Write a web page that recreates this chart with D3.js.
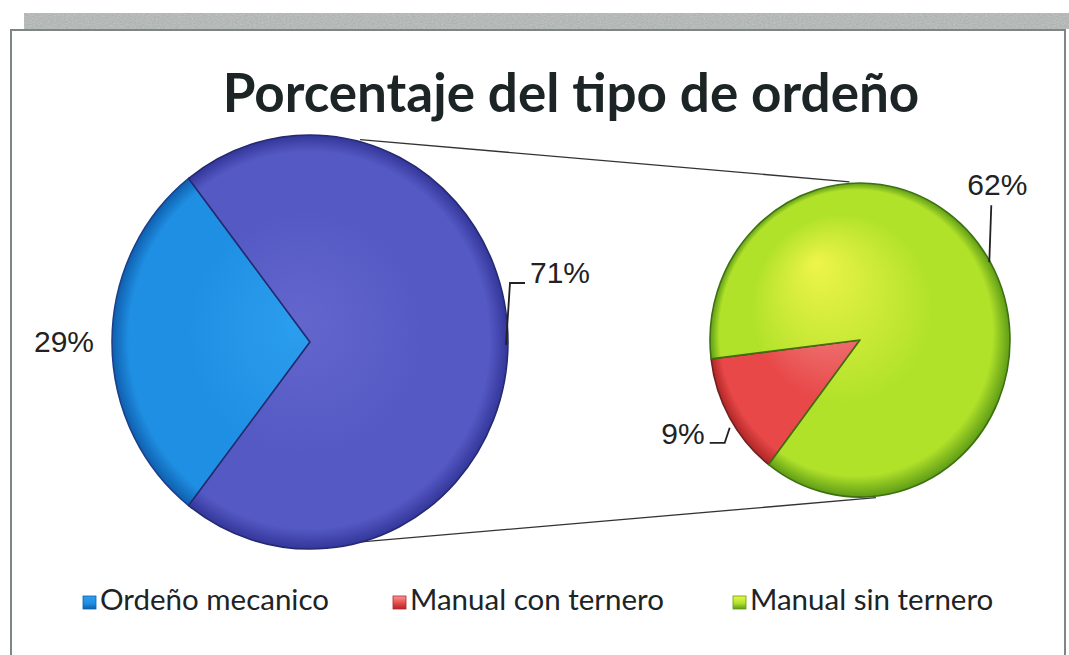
<!DOCTYPE html>
<html>
<head>
<meta charset="utf-8">
<script src="https://cdn.jsdelivr.net/npm/d3@7"></script>
<style>
	body { margin: 0; background: #fff; }
	svg { display: block; }
</style>
</head>
<body>
<script>
// Data (percent of total)
const mainLabels = ['Ordeño mecanico', 'Manual'];
const mainValues = [29, 71];
const subLabels = ['Manual con ternero', 'Manual sin ternero'];
const subValues = [9, 62];
const legendLabels = ['Ordeño mecanico', 'Manual con ternero', 'Manual sin ternero'];
const titleText = 'Porcentaje del tipo de ordeño';

const width = 1069, height = 655;

const svg = d3.select('body').append('svg')
	.attr('width', width)
	.attr('height', height);

const defs = svg.append('defs');

// noisy scan band at the top
const noise = defs.append('filter').attr('id', 'noise');
noise.append('feTurbulence').attr('type', 'fractalNoise')
	.attr('baseFrequency', '0.5 0.9').attr('numOctaves', 2).attr('result', 't');
noise.append('feColorMatrix').attr('in', 't').attr('type', 'saturate').attr('values', 0).attr('result', 'g');
noise.append('feComponentTransfer').attr('in', 'g').attr('result', 'a')
	.append('feFuncA').attr('type', 'linear').attr('slope', 0.45);
noise.append('feComposite').attr('in', 'a').attr('in2', 'SourceGraphic').attr('operator', 'atop');

svg.append('rect')
	.attr('x', 24).attr('y', 13).attr('width', width - 24).attr('height', 16)
	.attr('fill', '#b3b9b6')
	.attr('filter', 'url(#noise)');

// frame
svg.append('path')
	.attr('d', `M11,${height} L11,30 L1065,30 L1065,${height}`)
	.attr('fill', 'none')
	.attr('stroke', '#7e8683')
	.attr('stroke-width', 2);

// Title
svg.append('text')
	.attr('x', 571)
	.attr('y', 112)
	.attr('text-anchor', 'middle')
	.style('font-family', 'Lato, "Open Sans", sans-serif')
	.style('font-weight', 700)
	.style('font-size', '53px')
	.style('fill', '#1c2426')
	.text(titleText);

// colours: [highlight, base, edge]
const colors = {
	'Ordeño mecanico': ['#2c9eee', '#1f8fe3', '#0f5fae'],
	'Manual': ['#6266cc', '#5559c4', '#33379a'],
	'Manual con ternero': ['#f59a9a', '#e84848', '#b02626'],
	'Manual sin ternero': ['#eef44a', '#b1e22a', '#5e9c16']
};
const strokeCol = {
	'Ordeño mecanico': '#1b3f8a',
	'Manual': '#252a70',
	'Manual con ternero': '#702020',
	'Manual sin ternero': '#3e7012'
};

function makeGrad(id, c, r, fx, fy) {
	const g = defs.append('radialGradient')
		.attr('id', id)
		.attr('gradientUnits', 'userSpaceOnUse')
		.attr('cx', 0).attr('cy', 0).attr('r', r)
		.attr('fx', fx).attr('fy', fy);
	g.append('stop').attr('offset', '0%').attr('stop-color', c[0]);
	g.append('stop').attr('offset', '60%').attr('stop-color', c[1]);
	g.append('stop').attr('offset', '91%').attr('stop-color', c[1]);
	g.append('stop').attr('offset', '100%').attr('stop-color', c[2]);
}

// pie geometry (slightly taller than wide, as in the scan)
const main = { cx: 310, cy: 342, r: 204, rx: 198, ry: 207 };
const sub = { cx: 860, cy: 340, r: 153, rx: 150, ry: 157 };

const mainShare = mainValues[0] / d3.sum(mainValues);
const mainStart = 1.5 * Math.PI - mainShare * Math.PI;
const mainArcData = d3.pie().sort(null).value(d => d.value)
	.startAngle(mainStart).endAngle(mainStart + 2 * Math.PI)(
		mainValues.map((v, i) => ({ label: mainLabels[i], value: v })));

const subShare = subValues[0] / d3.sum(subValues);
const subMid = 240.3 * Math.PI / 180;
const subStart = subMid - subShare * Math.PI;
const subArcData = d3.pie().sort(null).value(d => d.value)
	.startAngle(subStart).endAngle(subStart + 2 * Math.PI)(
		subValues.map((v, i) => ({ label: subLabels[i], value: v })));

const pt = (c, a, k = 1) => [c.cx + k * c.rx * Math.sin(a), c.cy - k * c.ry * Math.cos(a)];
const deg = Math.PI / 180;

// connector lines between the two pies
const conn = [
	[pt(main, 14.5 * deg, 1.01), pt(sub, -4 * deg, 1.01)],
	[pt(main, 165 * deg, 1.0), pt(sub, 174 * deg, 1.01)]
];
svg.selectAll('.conn').data(conn).enter().append('line')
	.attr('class', 'conn')
	.attr('x1', d => d[0][0]).attr('y1', d => d[0][1])
	.attr('x2', d => d[1][0]).attr('y2', d => d[1][1])
	.attr('stroke', '#333').attr('stroke-width', 1.3);

function drawPie(c, arcs, gradPrefix, focal) {
	const arc = d3.arc().innerRadius(0).outerRadius(c.r);
	const g = svg.append('g')
		.attr('transform', `translate(${c.cx},${c.cy}) scale(${c.rx / c.r},${c.ry / c.r})`);
	arcs.forEach((d, i) => {
		makeGrad(gradPrefix + i, colors[d.data.label], c.r, focal[0] * c.r, focal[1] * c.r);
	});
	g.selectAll('path').data(arcs).enter().append('path')
		.attr('d', arc)
		.attr('fill', (d, i) => `url(#${gradPrefix}${i})`)
		.attr('stroke', d => strokeCol[d.data.label])
		.attr('stroke-width', 1.6)
		.attr('stroke-linejoin', 'round');
}

drawPie(main, mainArcData, 'gm', [-0.05, -0.1]);
drawPie(sub, subArcData, 'gs', [-0.3, -0.5]);

// data labels
const labelStyle = sel => sel
	.style('font-family', '"Liberation Sans", Arial, sans-serif')
	.style('font-size', '30px')
	.style('fill', '#222');

const midA = d => (d.startAngle + d.endAngle) / 2;
const leader = svg.append('g')
	.attr('fill', 'none').attr('stroke', '#222').attr('stroke-width', 1.8);

// 29% : left of blue slice
{
	const d = mainArcData[0];
	const p = pt(main, midA(d));
	svg.append('text').call(labelStyle)
		.attr('x', p[0] - 18).attr('y', p[1] + 10)
		.attr('text-anchor', 'end')
		.text(d.value + '%');
}
// 71% : right of purple slice with leader
{
	const d = mainArcData[1];
	const p = pt(main, midA(d));
	leader.append('path')
		.attr('d', `M${p[0] - 2},${p[1] + 3} L${p[0] + 2},${p[1] - 59} L${p[0] + 17},${p[1] - 59}`);
	svg.append('text').call(labelStyle)
		.attr('x', p[0] + 22).attr('y', p[1] - 59)
		.text(d.value + '%');
}
// 9% : red slice
{
	const d = subArcData[0];
	const p = pt(sub, midA(d));
	leader.append('path')
		.attr('d', `M${p[0]},${p[1] + 10} L${p[0] - 5},${p[1] + 25} L${p[0] - 20},${p[1] + 25}`);
	svg.append('text').call(labelStyle)
		.attr('x', p[0] - 25).attr('y', p[1] + 26)
		.attr('text-anchor', 'end')
		.text(d.value + '%');
}
// 62% : green slice
{
	const d = subArcData[1];
	const p = pt(sub, midA(d));
	leader.append('path')
		.attr('d', `M${p[0] - 1},${p[1]} L${p[0] + 1},${p[1] - 57}`);
	svg.append('text').call(labelStyle)
		.attr('x', p[0] + 7).attr('y', p[1] - 67)
		.attr('text-anchor', 'middle')
		.text(d.value + '%');
}

// Legend
const legendX = [83, 393, 733];
const legendColors = [colors['Ordeño mecanico'], colors['Manual con ternero'], colors['Manual sin ternero']];
const legend = svg.append('g').attr('class', 'legend');
const entries = legend.selectAll('.legend-entry')
	.data(legendLabels)
	.enter().append('g')
	.attr('class', 'legend-entry')
	.attr('transform', (d, i) => `translate(${legendX[i]}, 596)`);

entries.each(function(d, i) {
	const lg = defs.append('linearGradient').attr('id', 'lg' + i)
		.attr('x1', 0).attr('y1', 0).attr('x2', 0).attr('y2', 1);
	lg.append('stop').attr('offset', '0%').attr('stop-color', legendColors[i][0]);
	lg.append('stop').attr('offset', '55%').attr('stop-color', legendColors[i][1]);
	lg.append('stop').attr('offset', '100%').attr('stop-color', legendColors[i][2]);
});

entries.append('rect')
	.attr('width', 13).attr('height', 13)
	.attr('fill', (d, i) => `url(#lg${i})`)
	.attr('stroke', (d, i) => legendColors[i][2])
	.attr('stroke-width', 0.8);

entries.append('text')
	.attr('x', 17)
	.attr('y', 14)
	.style('font-family', 'Lato, "Open Sans", sans-serif')
	.style('font-size', '29.5px')
	.style('fill', '#1c2426')
	.text(d => d);
</script>
</body>
</html>
